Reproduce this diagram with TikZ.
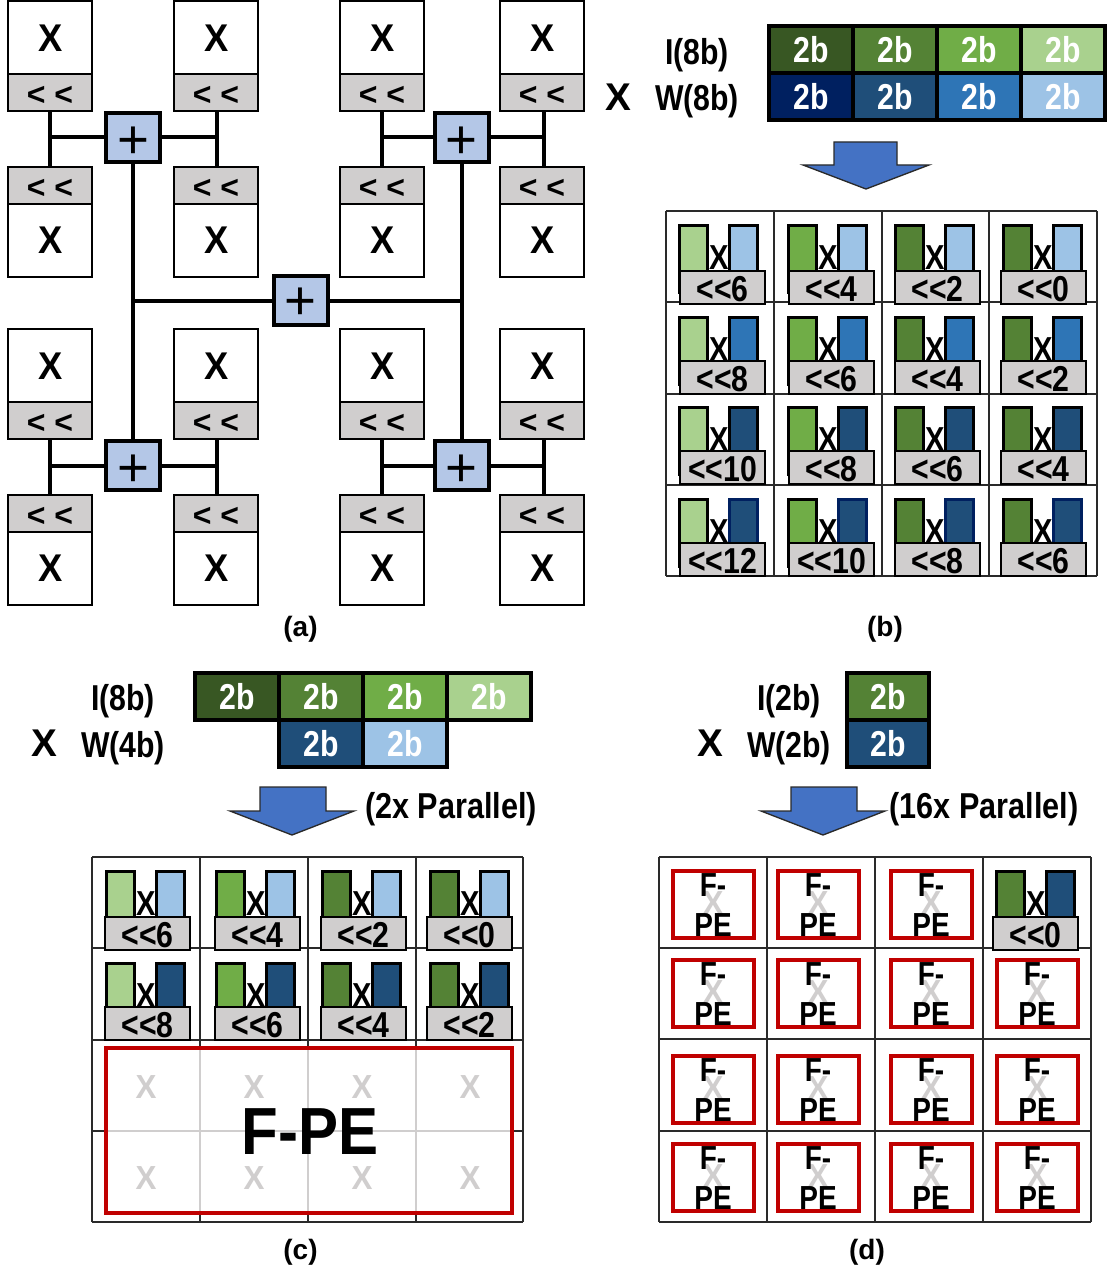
\documentclass[tikz,border=0pt]{standalone}
\usepackage{fontspec}
\setmainfont{Liberation Sans}
\definecolor{gA}{HTML}{385723}\definecolor{gB}{HTML}{548235}\definecolor{gC}{HTML}{70AD47}\definecolor{gD}{HTML}{A9D18E}
\definecolor{bA}{HTML}{002060}\definecolor{bB}{HTML}{1F4E79}\definecolor{bC}{HTML}{2E75B6}\definecolor{bD}{HTML}{9DC3E6}
\definecolor{shiftgray}{HTML}{D0CECE}\definecolor{plusblue}{HTML}{B4C7E7}\definecolor{arrowblue}{HTML}{4472C4}\definecolor{fpered}{HTML}{C00000}\definecolor{griddark}{HTML}{2A2A2A}
\newcommand\nar[1]{\scalebox{.84}[1]{#1}}
\newcommand\wid[1]{\scalebox{.94}[1]{#1}}
\newcounter{mi}
\tikzset{
 txt/.style={inner sep=0,font=\bfseries\fontsize{27}{27}\selectfont,text=black},
 captxt/.style={inner sep=0,font=\bfseries\fontsize{21}{21}\selectfont},
 bigx/.style={inner sep=0,font=\bfseries\fontsize{29}{29}\selectfont},
 xbox/.style={draw=black,fill=white,line width=1.5pt,minimum width=63pt,inner sep=0,font=\bfseries\fontsize{29}{29}\selectfont},
 sbox/.style={draw=black,fill=shiftgray,line width=1.5pt,minimum width=63pt,inner sep=0,font=\bfseries\fontsize{24}{24}\selectfont},
 plusbox/.style={draw=black,fill=plusblue,line width=3pt,minimum width=40.5pt,minimum height=36.5pt,inner sep=0,font=\fontsize{41}{41}\selectfont},
 wire/.style={line width=3pt,draw=black},
 gridline/.style={line width=1.2pt,draw=griddark},
 bararrow/.style={draw=griddark,fill=arrowblue,line width=1pt,line join=miter},
 barcell/.style={inner sep=0,text=white,font=\bfseries\fontsize{27}{27}\selectfont},
 minibar/.style={line width=2.25pt},
 minitxt/.style={inner sep=0,font=\bfseries\fontsize{26}{26}\selectfont},
 redbox/.style={draw=fpered,line width=2.6pt},
 grayx/.style={inner sep=0,text=shiftgray,font=\bfseries\fontsize{25}{25}\selectfont},
 fpetxt/.style={inner sep=0,font=\bfseries\fontsize{25}{25}\selectfont},
}
% green left, blue right, x, shift box: gx, top, sx, fill1, fill2, border2, label; \mdy = shift box offset
\newcommand\mini[7]{\stepcounter{mi}%
 \draw[minibar,draw=black,fill=#4] ({#1+1.5},{#2+1.5}) rectangle ({#1+29.5},{#2+68});
 \draw[minibar,draw=#6,fill=#5] ({#1+51.5},{#2+1.5}) rectangle ({#1+79.5},{#2+68});
 \node[minitxt] (mx\themi) at ({#1+41},{#2+34}) {\nar{X}};
 \draw[line width=1.5pt,draw=black,fill=shiftgray] (#3,{#2+\mdy}) rectangle ({#3+85},{#2+\mdy+33});
 \node[txt] (ml\themi) at ({#3+42.5},{#2+\mdy+18}) {\nar{#7}};}
\newcommand\fpe[2]{\stepcounter{mi}%
 \draw[redbox] ({#1+2},{#2+2}) rectangle ({#1+83},{#2+69});
 \node[grayx] (fx\themi) at ({#1+42},{#2+34}) {\wid{X}};
 \node[fpetxt] (ff\themi) at ({#1+42},{#2+16}) {\nar{F-}};
 \node[fpetxt] (fp\themi) at ({#1+42},{#2+56}) {\nar{PE}};}
\begin{document}
\begin{tikzpicture}[x=0.75pt,y=-0.75pt]
\useasboundingbox (0,0) rectangle (1107,1284);
\fill[white] (0,0) rectangle (1107,1284);
% ---- (a)
\foreach \r/\o in {u/0,l/328}{
 \foreach \c/\x/\w in {a/50/0pt,b/216/0.5pt,c/382/0pt,d/542/1.5pt}{
  \node[xbox,minimum height=54.4pt] (\c\r tx) at (\x,{\o+37.75}) {\hspace{1.2pt}\wid{X}};
  \node[sbox,minimum height=28.1pt] (\c\r ts) at (\x,{\o+92.75}) {\raisebox{-9.5pt}[0pt][0pt]{< <}};
  \node[sbox,minimum height=27.75pt] (\c\r bs) at (\x,{\o+185.5}) {\raisebox{-9.5pt}[0pt][0pt]{< <}};
  \node[xbox,minimum height=54.4pt] (\c\r bx) at (\x,{\o+240.5}) {\hspace{1.2pt}\wid{X}};
  \draw[wire] ([xshift=\w]\c\r ts.south) -- ([xshift=\w]\c\r bs.north);
  \coordinate (\c\r w) at ([xshift=\w]\c\r ts.south);
 }}
\node[plusbox] (pul) at (133,137.5) {\raisebox{-16pt}[0pt][0pt]{+}};
\node[plusbox] (pur) at (461.5,137.5) {\raisebox{-16pt}[0pt][0pt]{+}};
\node[plusbox] (pll) at (133,465.5) {\raisebox{-16pt}[0pt][0pt]{+}};
\node[plusbox] (plr) at (461.5,465.5) {\raisebox{-16pt}[0pt][0pt]{+}};
\node[plusbox] (pc) at (300.5,300.5) {\raisebox{-14.5pt}[0pt][0pt]{+}};
\foreach \p/\r/\ca/\cb in {pul/u/a/b,pur/u/c/d,pll/l/a/b,plr/l/c/d}{
 \draw[wire] (\p.west) -- (\p.west -| \ca\r w);
 \draw[wire] (\p.east) -- (\p.east -| \cb\r w);
}
\draw[wire] (pul.south) -- (pll.north);
\draw[wire] (pur.south) -- (plr.north);
\draw[wire] (pc.west) -- (pc.west -| pul.south);
\draw[wire] (pc.east) -- (pc.east -| pur.south);
\node[captxt] (capa) at (300.5,629) {(a)};
% ---- (b)
\fill[black] (767,24) rectangle (1107,122);
\foreach \n/\cx/\c in {a/811/gA,b/895/gB,c/979/gC,d/1063/gD}{
 \fill[\c] ({\cx-40},28) rectangle ({\cx+40},71);
 \node[barcell] (bi\n) at (\cx,50) {\nar{2b}};}
\foreach \n/\cx/\c in {a/811/bA,b/895/bB,c/979/bC,d/1063/bD}{
 \fill[\c] ({\cx-40},75) rectangle ({\cx+40},118);
 \node[barcell] (bw\n) at (\cx,97) {\nar{2b}};}
\node[txt] (bi) at (697,55) {\nar{I(8b)}};
\node[txt] (bw) at (697,101) {\nar{W(8b)}};
\node[bigx] (bx) at (618,97) {X};
\draw[bararrow] (834,142)--(834,165)--(803,165)--(866,189)--(929,165)--(897,165)--(897,142)--cycle;
\foreach \x in {666,774,882,989,1097} \draw[gridline] (\x,211)--(\x,576);
\foreach \y in {211,302,394,485,576} \draw[gridline] (666,\y)--(1097,\y);
\foreach \t/\mdy/\cb/\bb/\la/\lb/\lc/\ld in {224/47/bD/black/6/4/2/0,316/45/bC/black/8/6/4/2,406/45/bB/black/10/8/6/4,498/45/bB/bA/12/10/8/6}{
 \mini{678}{\t}{680}{gD}{\cb}{\bb}{<{}<\la}
 \mini{787}{\t}{789}{gC}{\cb}{\bb}{<{}<\lb}
 \mini{894}{\t}{895}{gB}{\cb}{\bb}{<{}<\lc}
 \mini{1002}{\t}{1001}{gB}{\cb}{\bb}{<{}<\ld}
}
\node[captxt] (capb) at (885,629) {(b)};
% ---- (c)
\fill[black] (193,671) rectangle (533,722);
\fill[black] (277,722) rectangle (449,769);
\foreach \n/\cx/\c in {a/237/gA,b/321/gB,c/405/gC,d/489/gD}{
 \fill[\c] ({\cx-40},675) rectangle ({\cx+40},718);
 \node[barcell] (ci\n) at (\cx,697) {\nar{2b}};}
\foreach \n/\cx/\c in {b/321/bB,c/405/bD}{
 \fill[\c] ({\cx-40},722) rectangle ({\cx+40},765);
 \node[barcell] (cw\n) at (\cx,744) {\nar{2b}};}
\node[txt] (ci) at (123,701) {\nar{I(8b)}};
\node[txt] (cw) at (123,748) {\nar{W(4b)}};
\node[bigx] (cx) at (44,743) {X};
\draw[bararrow] (260,787)--(260,811)--(230,811)--(292,835)--(354,811)--(326,811)--(326,787)--cycle;
\node[txt] (cpar) at (451,809) {\scalebox{.85}[1]{(2x Parallel)}};
\foreach \x in {92,200,308,416,523} \draw[gridline] (\x,857)--(\x,1222);
\foreach \y in {857,948,1040,1131,1222} \draw[gridline] (92,\y)--(523,\y);
\foreach \t/\mdy/\cb/\la/\lb/\lc/\ld in {870/47/bD/6/4/2/0,962/45/bB/8/6/4/2}{
 \mini{105}{\t}{105}{gD}{\cb}{black}{<{}<\la}
 \mini{215}{\t}{215}{gC}{\cb}{black}{<{}<\lb}
 \mini{321}{\t}{321}{gB}{\cb}{black}{<{}<\lc}
 \mini{429}{\t}{427}{gB}{\cb}{black}{<{}<\ld}
}
\fill[white] (106,1048) rectangle (512,1213);
\foreach \x in {200,308,416} \draw[line width=1.1pt,draw=shiftgray] (\x,1048)--(\x,1213);
\draw[line width=1.1pt,draw=shiftgray] (106,1131)--(512,1131);
\draw[redbox] (106,1048) rectangle (512,1213);
\foreach \n/\x in {a/146,b/254,c/362,d/470}{
 \node[grayx] (cgt\n) at (\x,1087) {\wid{X}};
 \node[grayx] (cgb\n) at (\x,1178) {\wid{X}};}
\node[inner sep=0,font=\bfseries\fontsize{50}{50}\selectfont] (cfpe) at (310,1132) {\scalebox{.9}[1]{F-PE}};
\node[captxt] (capc) at (300.5,1252) {(c)};
% ---- (d)
\fill[black] (845,671) rectangle (931,769);
\fill[gB] (849,675) rectangle (927,718);
\fill[bB] (849,722) rectangle (927,765);
\node[barcell] (di) at (888,697) {\nar{2b}};
\node[barcell] (dw) at (888,744) {\nar{2b}};
\node[txt] (dil) at (789,701) {\nar{I(2b)}};
\node[txt] (dwl) at (789,748) {\nar{W(2b)}};
\node[bigx] (dx) at (710,743) {X};
\draw[bararrow] (791,787)--(791,811)--(761,811)--(823,835)--(885,811)--(857,811)--(857,787)--cycle;
\node[txt] (dpar) at (984,809) {\scalebox{.85}[1]{(16x Parallel)}};
\foreach \x in {659,767,875,983,1091} \draw[gridline] (\x,857)--(\x,1222);
\foreach \y in {857,948,1039,1131,1222} \draw[gridline] (659,\y)--(1091,\y);
\fpe{671}{869}\fpe{776}{869}\fpe{889}{869}
\def\mdy{47}
\mini{995}{870}{993}{gB}{bB}{black}{<{}<0}
\foreach \y in {958,1054,1142}{\fpe{671}{\y}\fpe{776}{\y}\fpe{889}{\y}\fpe{995}{\y}}
\node[captxt] (capd) at (867,1252) {(d)};
\end{tikzpicture}
\end{document}
